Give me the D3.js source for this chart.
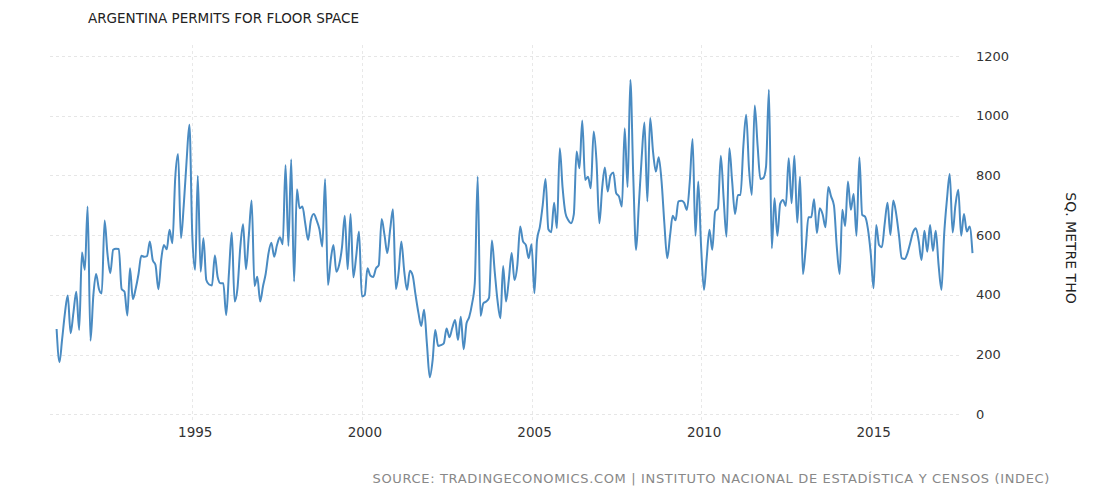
<!DOCTYPE html>
<html><head><meta charset="utf-8">
<script src="https://cdn.jsdelivr.net/npm/d3@7"></script>
<style>
html,body{margin:0;padding:0;background:#fff;}
svg{display:block;}
</style></head>
<body>
<svg id="chart" width="1118" height="498"></svg>
<script>
const title = "ARGENTINA PERMITS FOR FLOOR SPACE";
const source = "SOURCE: TRADINGECONOMICS.COM | INSTITUTO NACIONAL DE ESTADÍSTICA Y CENSOS (INDEC)";
const yAxisTitle = "SQ. METRE THO";
const startYear = 1991;
const yTicks = [0, 200, 400, 600, 800, 1000, 1200];
const xTickYears = [1995, 2000, 2005, 2010, 2015];
const values = [
286,175,250,340,398,272,340,411,283,542,484,696,
247,400,470,420,405,649,540,473,551,555,554,420,
411,331,489,386,420,470,531,528,530,579,517,500,
419,520,567,553,618,573,790,872,590,700,850,970,
600,484,799,478,590,450,435,432,532,460,439,439,
333,480,609,378,420,560,637,486,600,716,430,461,
378,430,470,540,575,528,567,593,570,835,564,854,
445,754,690,696,640,584,650,671,650,620,562,788,
433,520,567,478,500,560,665,486,671,459,530,612,
395,400,489,465,460,489,500,654,600,540,620,687,
420,480,579,480,417,481,465,400,340,296,350,238,
124,182,283,229,232,238,288,258,290,316,249,327,
218,305,325,370,440,796,330,372,378,390,582,480,
380,322,497,378,450,540,450,500,629,579,567,523,
570,406,584,629,700,788,620,610,709,623,891,760,
674,650,640,670,880,824,984,785,796,757,947,850,
640,760,827,746,800,810,741,729,696,958,761,1120,
800,551,700,860,977,713,992,880,813,861,780,640,
523,600,665,650,713,715,709,685,780,922,598,780,
560,417,520,618,551,679,690,866,720,595,891,780,
671,735,735,900,1003,820,735,1034,900,788,791,830,
1087,556,724,598,705,718,698,858,707,866,642,796,
470,560,660,660,720,607,690,670,627,761,729,700,
560,470,685,631,780,685,738,598,861,668,662,623,
540,422,634,567,560,640,709,601,716,674,600,523,
520,540,573,610,623,580,517,615,545,634,547,615,
500,417,598,720,805,609,700,752,598,671,612,629,
540
];

const dates = values.map((v, i) => new Date(startYear, i, 1));
const data = values.map((v, i) => ({date: dates[i], value: v}));

const svg = d3.select("#chart");
const font = "'DejaVu Sans', Verdana, sans-serif";

const x = d3.scaleTime()
  .domain([new Date(1991, 0, 1), new Date(2018, 0, 1)])
  .range([56.6, 972.5]);
const y = d3.scaleLinear().domain([0, 1200]).range([414.4, 56]);

// horizontal grid
svg.append("g").selectAll("line").data(yTicks).join("line")
  .attr("x1", 50).attr("x2", 962)
  .attr("y1", d => Math.round(y(d)) + 0.5).attr("y2", d => Math.round(y(d)) + 0.5)
  .attr("stroke", "#e6e6e6").attr("stroke-width", 1)
  .attr("stroke-dasharray", "3,3");

// vertical grid
svg.append("g").selectAll("line").data(xTickYears).join("line")
  .attr("x1", d => Math.round(x(new Date(d, 0, 1))) + 0.5)
  .attr("x2", d => Math.round(x(new Date(d, 0, 1))) + 0.5)
  .attr("y1", 45).attr("y2", 420)
  .attr("stroke", "#e8e8e8").attr("stroke-width", 1)
  .attr("stroke-dasharray", "3,3");

// y labels
svg.append("g").selectAll("text").data(yTicks).join("text")
  .attr("x", 976).attr("y", d => y(d) + 4.5)
  .attr("font-family", font).attr("font-size", 13).attr("fill", "#333")
  .text(d => d);

// x labels
svg.append("g").selectAll("text").data(xTickYears).join("text")
  .attr("x", d => x(new Date(d, 0, 1)) + 3).attr("y", 437)
  .attr("text-anchor", "middle")
  .attr("font-family", font).attr("font-size", 13.5).attr("fill", "#333")
  .text(d => d);

// line
const line = d3.line()
  .x(d => x(d.date)).y(d => y(d.value))
  .curve(d3.curveMonotoneX);
svg.append("path").datum(data)
  .attr("d", line)
  .attr("fill", "none")
  .attr("stroke", "#4a8bc2")
  .attr("stroke-width", 2)
  .attr("stroke-linejoin", "round");

// title
svg.append("text").attr("x", 88).attr("y", 23)
  .attr("font-family", font).attr("font-size", 13.5).attr("fill", "#222")
  .text(title);

// y axis title
svg.append("text")
  .attr("transform", "translate(1066,248) rotate(90)")
  .attr("text-anchor", "middle")
  .attr("font-family", font).attr("font-size", 14).attr("fill", "#222")
  .text(yAxisTitle);

// source
svg.append("text").attr("x", 1050).attr("y", 483)
  .attr("text-anchor", "end")
  .attr("font-family", font).attr("font-size", 13).attr("fill", "#888")
  .attr("letter-spacing", 0.65)
  .text(source);
</script>
</body></html>
